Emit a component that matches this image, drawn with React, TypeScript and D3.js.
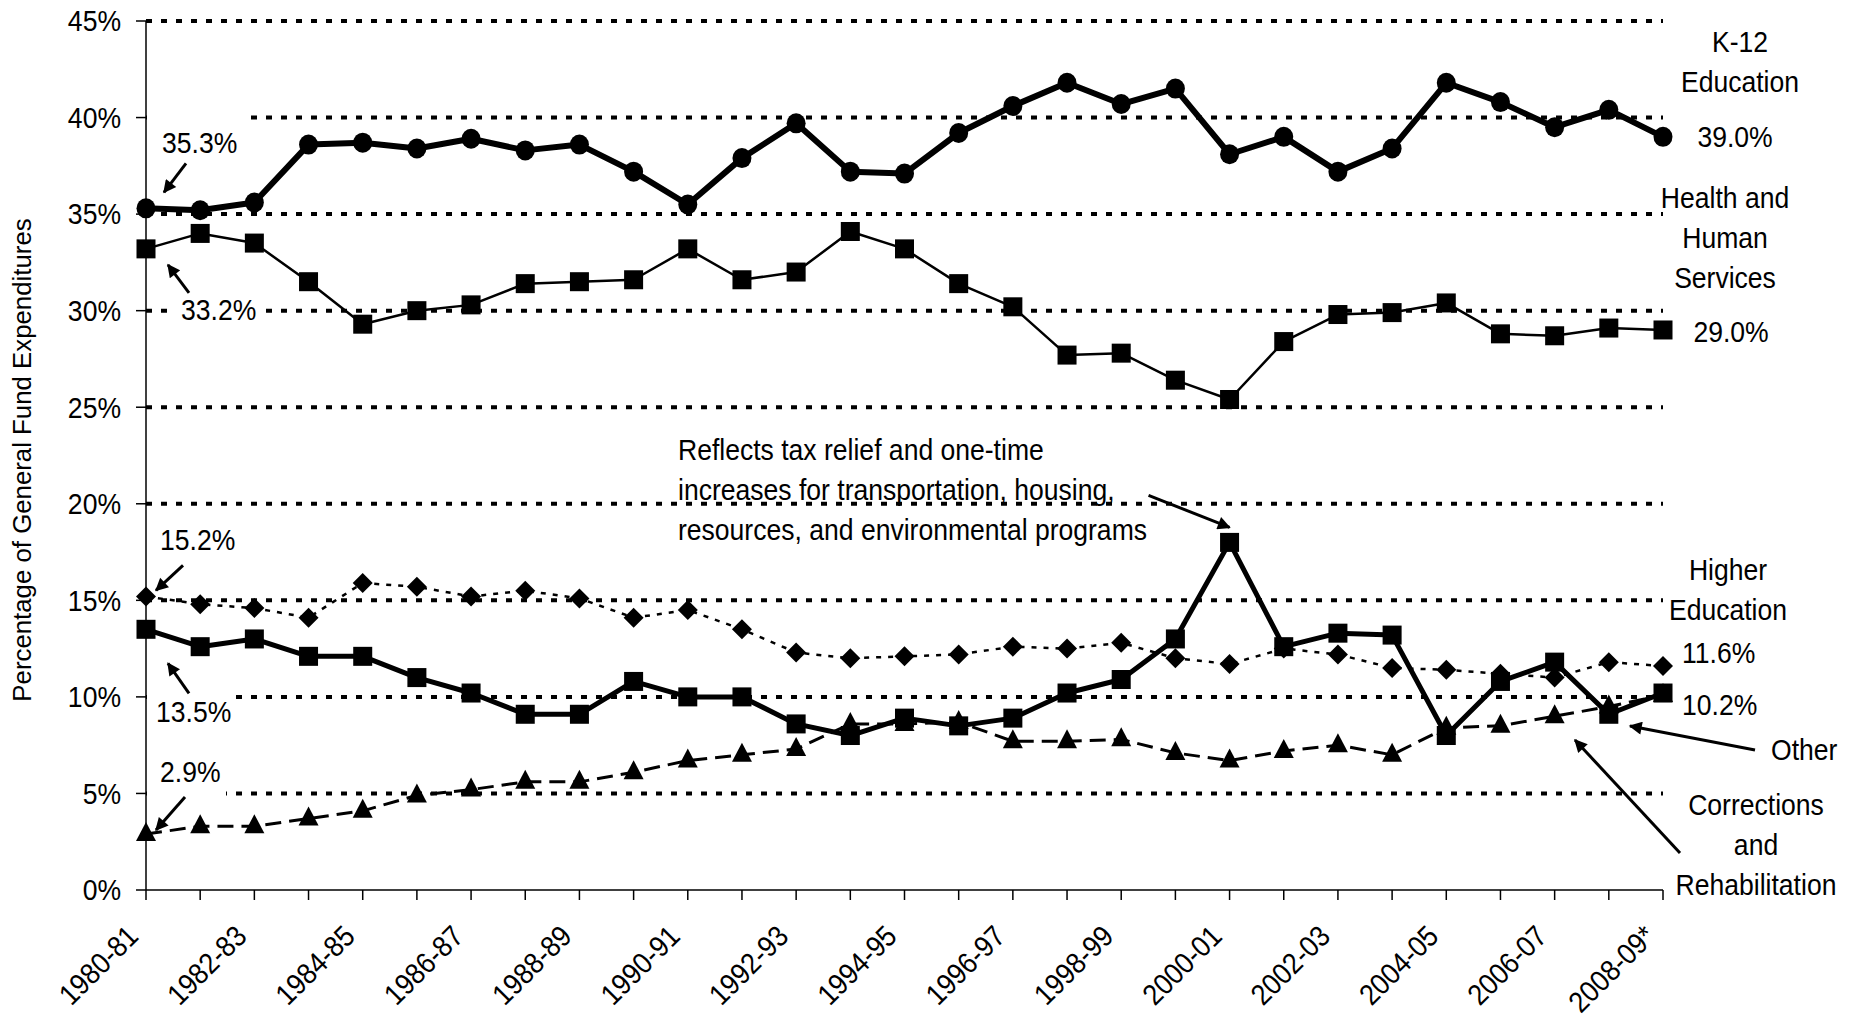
import React from "react";
import * as d3 from "d3";

const categories = [
  "1980-81","1981-82","1982-83","1983-84","1984-85","1985-86","1986-87","1987-88","1988-89","1989-90",
  "1990-91","1991-92","1992-93","1993-94","1994-95","1995-96","1996-97","1997-98","1998-99","1999-00",
  "2000-01","2001-02","2002-03","2003-04","2004-05","2005-06","2006-07","2007-08","2008-09*",
];
const k12 = [35.3,35.2,35.6,38.6,38.7,38.4,38.9,38.3,38.6,37.2,35.5,37.9,39.7,37.2,37.1,39.2,40.6,41.8,40.7,41.5,38.1,39.0,37.2,38.4,41.8,40.8,39.5,40.4,39.0];
const health = [33.2,34.0,33.5,31.5,29.3,30.0,30.3,31.4,31.5,31.6,33.2,31.6,32.0,34.1,33.2,31.4,30.2,27.7,27.8,26.4,25.4,28.4,29.8,29.9,30.4,28.8,28.7,29.1,29.0];
const higherEd = [15.2,14.8,14.6,14.1,15.9,15.7,15.2,15.5,15.1,14.1,14.5,13.5,12.3,12.0,12.1,12.2,12.6,12.5,12.8,12.0,11.7,12.5,12.2,11.5,11.4,11.2,11.0,11.8,11.6];
const other = [13.5,12.6,13.0,12.1,12.1,11.0,10.2,9.1,9.1,10.8,10.0,10.0,8.6,8.0,8.9,8.5,8.9,10.2,10.9,13.0,18.0,12.6,13.3,13.2,8.0,10.8,11.8,9.1,10.2];
const corrections = [2.9,3.3,3.3,3.7,4.1,4.9,5.2,5.6,5.6,6.1,6.7,7.0,7.3,8.6,8.6,8.7,7.7,7.7,7.8,7.1,6.7,7.2,7.5,7.0,8.4,8.5,9.0,9.5,10.1];
const yTicks = [0,5,10,15,20,25,30,35,40,45];
const gridValues = [5,10,15,20,25,30,35,40,45];

const FONT = "'Liberation Sans',Arial,Helvetica,sans-serif";
const FS = 29.5;
const SX = 0.9;

function T({ x, y, anchor = "start", rot = 0, dy, children }: { x: number; y: number; anchor?: string; rot?: number; dy?: string; children: React.ReactNode }) {
  return (
    <text
      transform={`translate(${x},${y})${rot ? ` rotate(${rot})` : ""} scale(${SX},1)`}
      textAnchor={anchor}
      dy={dy}
      fontFamily={FONT}
      fontSize={FS}
      fill="#000"
    >
      {children}
    </text>
  );
}

export default function App() {
  const W = 1849, H = 1022;
  const x = d3.scalePoint<string>().domain(categories).range([146, 1663]);
  const y = d3.scaleLinear().domain([0, 45]).range([890, 21]);
  const xi = (i: number) => x(categories[i]) as number;

  const line = (vals: number[]) =>
    d3.line<number>().x((_, i) => xi(i)).y((v) => y(v))(vals) || "";

  const circle = (cx: number, cy: number, k: string) => <ellipse key={k} cx={cx} cy={cy} rx={9.5} ry={10} fill="#000" />;
  const square = (cx: number, cy: number, k: string) => <rect key={k} x={cx - 9.5} y={cy - 9.5} width={19} height={19} fill="#000" />;
  const diamond = (cx: number, cy: number, k: string) => (
    <path key={k} d={`M${cx},${cy - 10}L${cx + 10},${cy}L${cx},${cy + 10}L${cx - 10},${cy}Z`} fill="#000" />
  );
  const triangle = (cx: number, cy: number, k: string) => (
    <path key={k} d={`M${cx},${cy - 12}L${cx + 10},${cy + 7}L${cx - 10},${cy + 7}Z`} fill="#000" />
  );

  const series = [
    { name: "higher", vals: higherEd, sw: 2.5, dash: "5,7", marker: diamond },
    { name: "corr", vals: corrections, sw: 3, dash: "16,8", marker: triangle },
    { name: "other", vals: other, sw: 5, dash: undefined, marker: square },
    { name: "health", vals: health, sw: 2.5, dash: undefined, marker: square },
    { name: "k12", vals: k12, sw: 6, dash: undefined, marker: circle },
  ];

  const p0 = (vals: number[]) => [xi(0), y(vals[0])];
  const [k0x, k0y] = p0(k12);
  const [h0x, h0y] = p0(health);
  const [e0x, e0y] = p0(higherEd);
  const [o0x, o0y] = p0(other);
  const [c0x, c0y] = p0(corrections);
  const peakX = xi(20), peakY = y(other[20]);

  const arrows = [
    [k0x + 40, k0y - 45, k0x + 18, k0y - 16],
    [h0x + 43, h0y + 44, h0x + 22, h0y + 16],
    [e0x + 37, e0y - 31, e0x + 10, e0y - 6],
    [o0x + 43, o0y + 64, o0x + 22, o0y + 34],
    [c0x + 39, c0y - 37, c0x + 10, c0y - 4],
    [peakX - 81, peakY - 47, peakX, peakY - 15],
    [1755, 750, 1630, 726],
    [1680, 853, 1575, 740],
  ];

  const covers = [
    { x0: 147, x1: 250, v: 40 },
    { x0: 172, x1: 266, v: 30 },
    { x0: 147, x1: 234, v: 10 },
    { x0: 147, x1: 226, v: 5 },
  ];

  return (
    <svg width={W} height={H} style={{ position: "absolute", left: 0, top: 0, background: "#fff" }}>
      <defs>
        <marker id="ah" viewBox="0 0 10 10" refX="9" refY="5" markerUnits="userSpaceOnUse" markerWidth="15" markerHeight="13" orient="auto">
          <path d="M0,0L10,5L0,10Z" fill="#000" />
        </marker>
      </defs>
      <rect x={0} y={0} width={W} height={H} fill="#fff" />
      {gridValues.map((v) => (
        <line key={"g" + v} x1={146} x2={1663} y1={y(v)} y2={y(v)} stroke="#000" strokeWidth={4} strokeDasharray="6,9" />
      ))}
      {covers.map((c, i) => (
        <rect key={"c" + i} x={c.x0} y={y(c.v) - 4} width={c.x1 - c.x0} height={8} fill="#fff" />
      ))}
      <line x1={146} x2={146} y1={y(45)} y2={y(0)} stroke="#000" strokeWidth={1.5} />
      <line x1={146} x2={1663} y1={y(0)} y2={y(0)} stroke="#000" strokeWidth={1.5} />
      {yTicks.map((v) => (
        <g key={"yt" + v}>
          <line x1={136} x2={146} y1={y(v)} y2={y(v)} stroke="#000" strokeWidth={1.5} />
          <T x={121} y={y(v)} anchor="end" dy="0.35em">{v}%</T>
        </g>
      ))}
      {categories.map((c, i) => (
        <line key={"xt" + i} x1={xi(i)} x2={xi(i)} y1={y(0)} y2={y(0) + 10} stroke="#000" strokeWidth={1.5} />
      ))}
      {categories.map((c, i) =>
        i % 2 === 0 ? (
          <T key={"xl" + i} x={xi(i) - 6} y={y(0) + 48} anchor="end" rot={-45}>{c}</T>
        ) : null
      )}
      <text transform={`translate(31,460) rotate(-90)`} textAnchor="middle" fontFamily={FONT} fontSize={25.8}>
        Percentage of General Fund Expenditures
      </text>
      {series.map((s) => (
        <g key={s.name}>
          <path d={line(s.vals)} fill="none" stroke="#000" strokeWidth={s.sw} strokeDasharray={s.dash} strokeLinejoin="round" />
          {s.vals.map((v, i) => s.marker(xi(i), y(v), s.name + i))}
        </g>
      ))}
      {arrows.map((a, i) => (
        <line key={"a" + i} x1={a[0]} y1={a[1]} x2={a[2]} y2={a[3]} stroke="#000" strokeWidth={3} markerEnd="url(#ah)" />
      ))}
      <T x={162} y={153}>35.3%</T>
      <T x={181} y={320}>33.2%</T>
      <T x={160} y={550}>15.2%</T>
      <T x={156} y={722}>13.5%</T>
      <T x={160} y={782}>2.9%</T>
      <T x={678} y={460}>Reflects tax relief and one-time</T>
      <T x={678} y={500}>increases for transportation, housing,</T>
      <T x={678} y={540}>resources, and environmental programs</T>
      <T x={1740} y={52} anchor="middle">K-12</T>
      <T x={1740} y={92} anchor="middle">Education</T>
      <T x={1735} y={147} anchor="middle">39.0%</T>
      <T x={1725} y={208} anchor="middle">Health and</T>
      <T x={1725} y={248} anchor="middle">Human</T>
      <T x={1725} y={288} anchor="middle">Services</T>
      <T x={1731} y={342} anchor="middle">29.0%</T>
      <T x={1728} y={580} anchor="middle">Higher</T>
      <T x={1728} y={620} anchor="middle">Education</T>
      <T x={1756} y={815} anchor="middle">Corrections</T>
      <T x={1756} y={855} anchor="middle">and</T>
      <T x={1756} y={895} anchor="middle">Rehabilitation</T>
      <T x={1682} y={663}>11.6%</T>
      <T x={1682} y={715}>10.2%</T>
      <T x={1771} y={760}>Other</T>
    </svg>
  );
}
